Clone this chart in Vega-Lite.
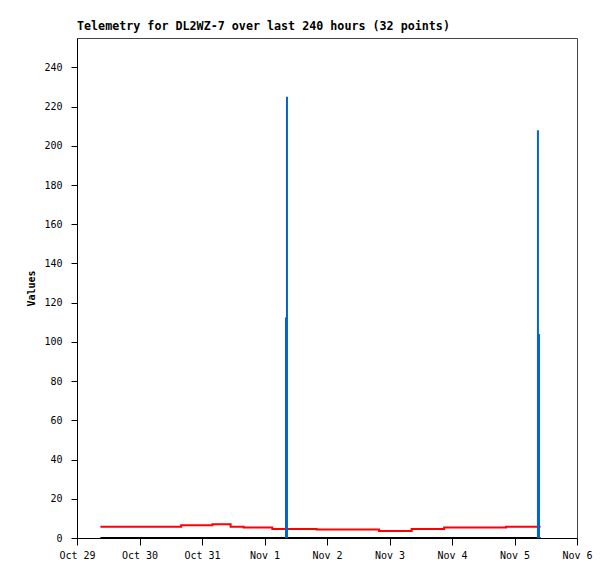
{
  "$schema": "https://vega.github.io/schema/vega-lite/v6.json",
  "width": 500,
  "height": 500,
  "autosize": {"type": "none"},
  "padding": {"left": 77, "top": 38, "right": 38, "bottom": 41},
  "background": "white",
  "title": {
    "text": "Telemetry for DL2WZ-7 over last 240 hours (32 points)",
    "anchor": "start",
    "frame": "group",
    "font": "DejaVu Sans Mono",
    "fontSize": 11.7,
    "fontWeight": "bold",
    "color": "black",
    "offset": 5
  },
  "config": {
    "view": {"stroke": "#444444", "strokeWidth": 1},
    "axis": {
      "labelFont": "DejaVu Sans Mono",
      "labelFontSize": 10,
      "labelColor": "black",
      "titleFont": "DejaVu Sans Mono",
      "titleColor": "black",
      "domainColor": "black",
      "tickColor": "black",
      "grid": false
    }
  },
  "data": {
    "values": [
      {"time": "2024-10-29T09:00:00Z", "series": "zero", "value": 0},
      {"time": "2024-11-01T08:15:00Z", "series": "zero", "value": 0},
      {"time": "2024-11-05T10:00:00Z", "series": "zero", "value": 0},
      {"time": "2024-10-29T09:00:00Z", "series": "red", "value": 5.8},
      {"time": "2024-10-30T16:00:00Z", "series": "red", "value": 6.5},
      {"time": "2024-10-31T04:00:00Z", "series": "red", "value": 7.0},
      {"time": "2024-10-31T11:00:00Z", "series": "red", "value": 5.8},
      {"time": "2024-10-31T16:00:00Z", "series": "red", "value": 5.3},
      {"time": "2024-11-01T03:00:00Z", "series": "red", "value": 4.6},
      {"time": "2024-11-01T20:00:00Z", "series": "red", "value": 4.3},
      {"time": "2024-11-02T20:00:00Z", "series": "red", "value": 3.6},
      {"time": "2024-11-03T08:30:00Z", "series": "red", "value": 4.6},
      {"time": "2024-11-03T21:00:00Z", "series": "red", "value": 5.3},
      {"time": "2024-11-04T20:45:00Z", "series": "red", "value": 5.8},
      {"time": "2024-11-05T10:00:00Z", "series": "red", "value": 5.8},
      {"time": "2024-11-01T08:15:00Z", "series": "blue", "value": 112.5},
      {"time": "2024-11-01T08:38:00Z", "series": "blue", "value": 225},
      {"time": "2024-11-05T09:00:00Z", "series": "blue", "value": 208},
      {"time": "2024-11-05T09:25:00Z", "series": "blue", "value": 104}
    ]
  },
  "encoding": {
    "x": {
      "field": "time",
      "type": "temporal",
      "scale": {
        "type": "utc",
        "domain": [
          {"year": 2024, "month": 10, "date": 29, "utc": true},
          {"year": 2024, "month": 11, "date": 6, "utc": true}
        ],
        "nice": false
      },
      "axis": {
        "title": null,
        "values": [
          {"year": 2024, "month": 10, "date": 29, "utc": true},
          {"year": 2024, "month": 10, "date": 30, "utc": true},
          {"year": 2024, "month": 10, "date": 31, "utc": true},
          {"year": 2024, "month": 11, "date": 1, "utc": true},
          {"year": 2024, "month": 11, "date": 2, "utc": true},
          {"year": 2024, "month": 11, "date": 3, "utc": true},
          {"year": 2024, "month": 11, "date": 4, "utc": true},
          {"year": 2024, "month": 11, "date": 5, "utc": true},
          {"year": 2024, "month": 11, "date": 6, "utc": true}
        ],
        "labelExpr": "utcFormat(datum.value, '%b %-d')",
        "tickSize": 7,
        "labelPadding": 5,
        "labelFlush": false,
        "labelOverlap": false
      }
    },
    "y": {
      "field": "value",
      "type": "quantitative",
      "scale": {"domain": [0, 255], "nice": false},
      "axis": {
        "title": "Values",
        "titleFontSize": 10,
        "titleFontWeight": "bold",
        "titlePadding": 7,
        "values": [0, 20, 40, 60, 80, 100, 120, 140, 160, 180, 200, 220, 240],
        "tickSize": 6,
        "labelPadding": 9
      }
    }
  },
  "layer": [
    {
      "transform": [{"filter": "datum.series === 'zero'"}],
      "mark": {"type": "line", "interpolate": "step-after", "color": "black", "strokeWidth": 2}
    },
    {
      "transform": [{"filter": "datum.series === 'red'"}],
      "mark": {"type": "line", "interpolate": "step-after", "color": "#ff0000", "strokeWidth": 2}
    },
    {
      "transform": [{"filter": "datum.series === 'blue'"}],
      "mark": {"type": "rule", "color": "#0066cc", "strokeWidth": 2},
      "encoding": {"y2": {"datum": 0}}
    }
  ]
}
